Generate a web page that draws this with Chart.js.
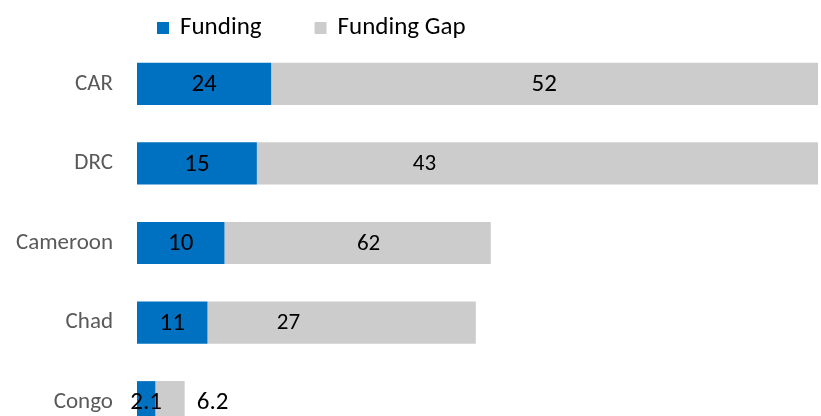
<!DOCTYPE html>
<html>
<head>
<meta charset="utf-8">
<script src="https://cdn.jsdelivr.net/npm/chart.js@4"></script>
<style>
  html, body { margin: 0; padding: 0; background: #fff; overflow: hidden; }
  #wrap { position: relative; width: 821px; height: 442px; }
  canvas { display: block; }
</style>
</head>
<body>
<div id="wrap"><canvas id="c"></canvas></div>
<script>
// ---- data ----
const categories = ['CAR', 'DRC', 'Cameroon', 'Chad', 'Congo'];
const seriesNames = ['Funding', 'Funding Gap'];
// bar lengths as drawn (x-axis runs 0..100 across the plot)
const fundingLength = [19.7, 17.6, 12.85, 10.35, 2.7];
const gapLength = [82, 84, 39.1, 39.4, 4.3];
// values printed on the bars
const fundingLabels = ['24', '15', '10', '11', '2.1'];
const gapLabels = ['52', '43', '62', '27', '6.2'];
// where each gap label sits, in x-axis units
const gapLabelAt = [59.8, 42.2, 34.0, 22.25, 11.1];

// ---- style ----
const FONT = "Carlito, Lato, 'Liberation Sans', sans-serif";
const COLORS = ['#0070C0', '#CCCCCC'];
const gapLabelSize = [25, 23, 23, 23, 25];
const fundingLabelSize = 25;

const barLabelPlugin = {
  id: 'barLabels',
  afterDatasetsDraw(chart) {
    const ctx = chart.ctx;
    const xScale = chart.scales.x;
    ctx.save();
    ctx.fillStyle = '#000';
    ctx.textAlign = 'center';
    ctx.textBaseline = 'middle';
    chart.getDatasetMeta(0).data.forEach((el, i) => {
      ctx.font = fundingLabelSize + 'px ' + FONT;
      ctx.fillText(fundingLabels[i], (el.x + el.base) / 2, el.y + 1);
    });
    chart.getDatasetMeta(1).data.forEach((el, i) => {
      ctx.font = gapLabelSize[i] + 'px ' + FONT;
      ctx.fillText(gapLabels[i], xScale.getPixelForValue(gapLabelAt[i]), el.y + 1);
    });
    ctx.restore();
  }
};

const legendPlugin = {
  id: 'topLegend',
  afterDraw(chart) {
    const ctx = chart.ctx;
    let x = chart.chartArea.left + 20;
    const yMid = 28;
    ctx.save();
    ctx.font = '25px ' + FONT;
    ctx.textBaseline = 'middle';
    ctx.textAlign = 'left';
    chart.data.datasets.forEach((ds) => {
      ctx.fillStyle = ds.backgroundColor;
      ctx.fillRect(x, yMid - 6, 12, 12);
      x += 12 + 11;
      ctx.fillStyle = '#000';
      ctx.fillText(ds.label, x, yMid);
      x += ctx.measureText(ds.label).width + 53;
    });
    ctx.restore();
  }
};

new Chart(document.getElementById('c'), {
  type: 'bar',
  data: {
    labels: categories,
    datasets: [
      { label: seriesNames[0], data: fundingLength, backgroundColor: COLORS[0] },
      { label: seriesNames[1], data: gapLength, backgroundColor: COLORS[1] }
    ]
  },
  options: {
    indexAxis: 'y',
    responsive: true,
    maintainAspectRatio: false,
    animation: false,
    devicePixelRatio: 1,
    layout: { padding: { top: 44, right: 3, bottom: 0, left: 0 } },
    datasets: { bar: { categoryPercentage: 1, barPercentage: 0.53 } },
    scales: {
      x: { stacked: true, min: 0, max: 100, display: false },
      y: {
        stacked: true,
        grid: { display: false, drawTicks: false },
        border: { display: false },
        ticks: { padding: 24, color: '#595959', font: { family: FONT, size: 23 } },
        afterFit(scale) {
          scale.width = 137;
          scale.paddingTop = 0;
          scale.paddingBottom = 0;
        }
      }
    },
    plugins: { legend: { display: false }, tooltip: { enabled: false } }
  },
  plugins: [barLabelPlugin, legendPlugin]
});
</script>
</body>
</html>
